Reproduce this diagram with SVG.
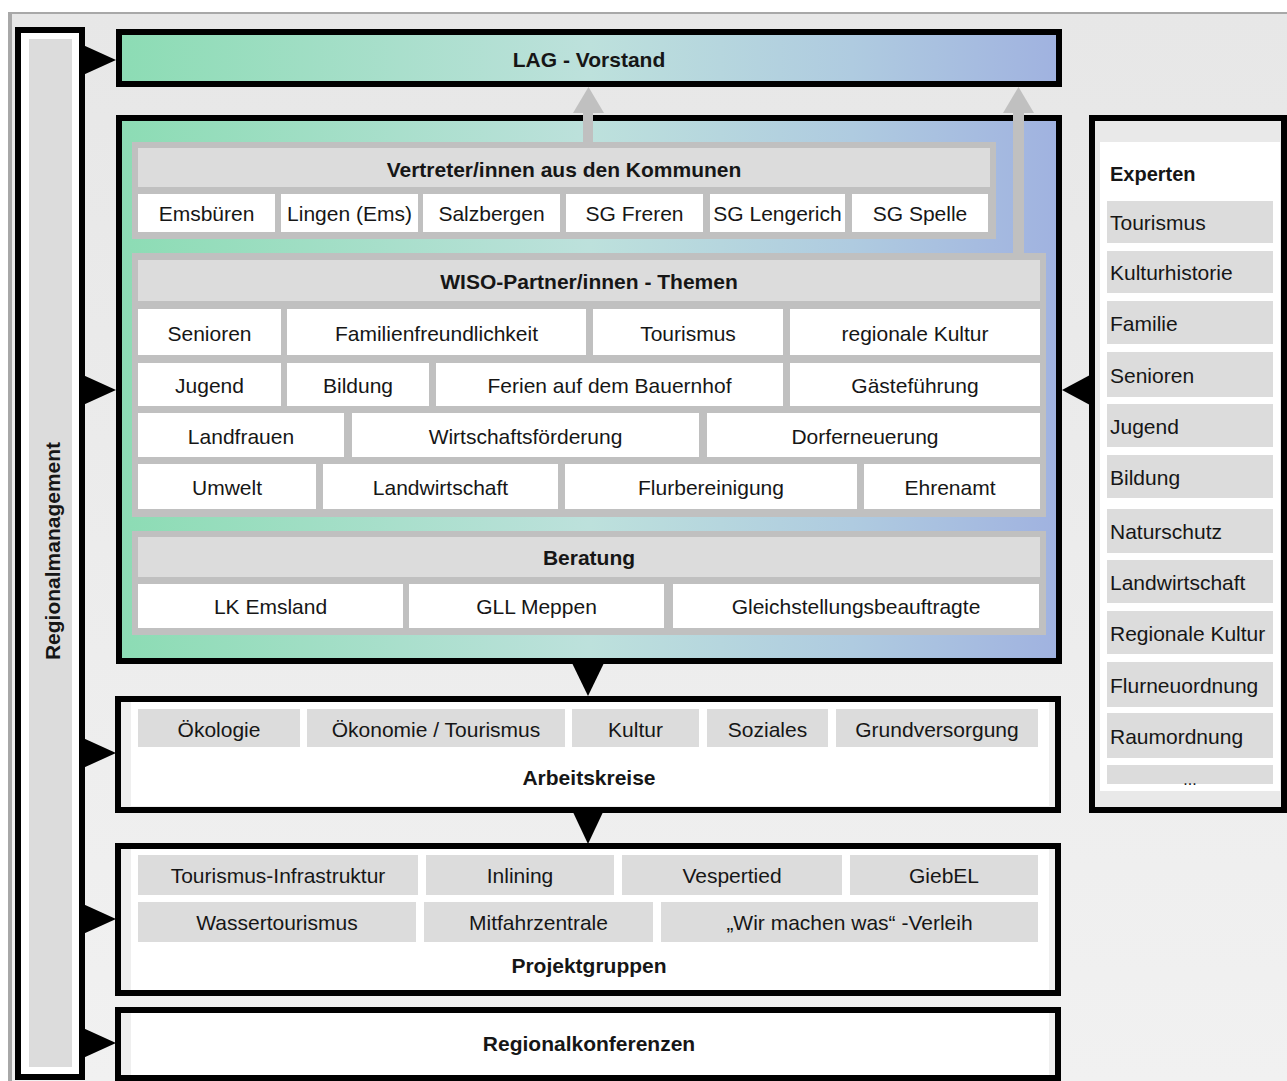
<svg xmlns="http://www.w3.org/2000/svg" width="1287" height="1081" viewBox="0 0 1287 1081">
  <style>
    text { font-family: "Liberation Sans", Arial, sans-serif; font-size: 21px; fill: #161616; }
    .b { font-weight: bold; }
    .c { text-anchor: middle; }
    .box { stroke: #000; stroke-width: 6; }
    .frame { fill: #c0c0c0; }
    .hdr { fill: #dcdcdc; }
    .cell { fill: #ffffff; }
    .gcell { fill: #dcdcdc; }
    .inner { fill: #ffffff; }
    .blk { fill: #000; }
    .garr { fill: #c0c0c0; }
  </style>
  <defs>
    <linearGradient id="grad" gradientUnits="userSpaceOnUse" x1="119" y1="0" x2="1059" y2="0">
      <stop offset="0" stop-color="#8cdcb4"/>
      <stop offset="0.5" stop-color="#bde1dc"/>
      <stop offset="0.78" stop-color="#afcbe0"/>
      <stop offset="1" stop-color="#a0b2e0"/>
    </linearGradient>
    <linearGradient id="bg" x1="0" y1="0" x2="0" y2="1">
      <stop offset="0" stop-color="#e7e7e7"/>
      <stop offset="1" stop-color="#f1f1f1"/>
    </linearGradient>
  </defs>

  <!-- background -->
  <rect x="0" y="0" width="1287" height="1081" fill="#ffffff"/>
  <rect x="8" y="12" width="1279" height="1069" fill="url(#bg)"/>
  <rect x="8" y="12" width="1279" height="2" fill="#a8a8a8"/>
  <rect x="8" y="12" width="4" height="1069" fill="#a8a8a8"/>

  <!-- Regionalmanagement -->
  <g id="regionalmanagement">
    <rect class="box" x="18" y="30" width="64" height="1047" fill="#ffffff"/>
    <rect x="29" y="39" width="43" height="1028" fill="#dcdcdc"/>
    <text class="b c" transform="translate(60,551) rotate(-90)">Regionalmanagement</text>
  </g>

  <!-- LAG Vorstand -->
  <g id="lag-vorstand">
    <rect class="box" x="119" y="32" width="940" height="52" fill="url(#grad)"/>
    <text class="b c" x="589" y="67">LAG - Vorstand</text>
  </g>

  <!-- Main box -->
  <g id="main">
    <rect class="box" x="119" y="118" width="940" height="543" fill="url(#grad)"/>
  </g>

  <!-- Vertreter -->
  <g id="vertreter">
    <rect class="frame" x="132" y="142" width="864" height="97"/>
    <rect class="hdr" x="138" y="148" width="852" height="39"/>
    <text class="b c" x="564" y="177">Vertreter/innen aus den Kommunen</text>
    <rect class="cell" x="138" y="194" width="137" height="38"/>
    <rect class="cell" x="281" y="194" width="137" height="38"/>
    <rect class="cell" x="423" y="194" width="137" height="38"/>
    <rect class="cell" x="566" y="194" width="137" height="38"/>
    <rect class="cell" x="710" y="194" width="135" height="38"/>
    <rect class="cell" x="852" y="194" width="136" height="38"/>
    <text class="c" x="206.5" y="221">Emsbüren</text>
    <text class="c" x="349.5" y="221">Lingen (Ems)</text>
    <text class="c" x="491.5" y="221">Salzbergen</text>
    <text class="c" x="634.5" y="221">SG Freren</text>
    <text class="c" x="777.5" y="221">SG Lengerich</text>
    <text class="c" x="920" y="221">SG Spelle</text>
  </g>

  <!-- WISO -->
  <g id="wiso">
    <rect class="frame" x="132" y="253" width="914" height="264"/>
    <rect class="hdr" x="138" y="260" width="902" height="41"/>
    <text class="b c" x="589" y="289">WISO-Partner/innen - Themen</text>
    <rect class="cell" x="138" y="309" width="143" height="46"/>
    <rect class="cell" x="287" y="309" width="299" height="46"/>
    <rect class="cell" x="593" y="309" width="190" height="46"/>
    <rect class="cell" x="790" y="309" width="250" height="46"/>
    <text class="c" x="209.5" y="341">Senioren</text>
    <text class="c" x="436.5" y="341">Familienfreundlichkeit</text>
    <text class="c" x="688" y="341">Tourismus</text>
    <text class="c" x="915" y="341">regionale Kultur</text>

    <rect class="cell" x="138" y="363" width="143" height="43"/>
    <rect class="cell" x="287" y="363" width="142" height="43"/>
    <rect class="cell" x="436" y="363" width="347" height="43"/>
    <rect class="cell" x="790" y="363" width="250" height="43"/>
    <text class="c" x="209.5" y="393">Jugend</text>
    <text class="c" x="358" y="393">Bildung</text>
    <text class="c" x="609.5" y="393">Ferien auf dem Bauernhof</text>
    <text class="c" x="915" y="393">Gästeführung</text>

    <rect class="cell" x="138" y="413" width="206" height="44"/>
    <rect class="cell" x="352" y="413" width="347" height="44"/>
    <rect class="cell" x="707" y="413" width="333" height="44"/>
    <text class="c" x="241" y="444">Landfrauen</text>
    <text class="c" x="525.5" y="444">Wirtschaftsförderung</text>
    <text class="c" x="865" y="444">Dorferneuerung</text>

    <rect class="cell" x="138" y="464" width="178" height="45"/>
    <rect class="cell" x="323" y="464" width="235" height="45"/>
    <rect class="cell" x="565" y="464" width="292" height="45"/>
    <rect class="cell" x="864" y="464" width="176" height="45"/>
    <text class="c" x="227" y="495">Umwelt</text>
    <text class="c" x="440.5" y="495">Landwirtschaft</text>
    <text class="c" x="711" y="495">Flurbereinigung</text>
    <text class="c" x="950" y="495">Ehrenamt</text>
  </g>

  <!-- Beratung -->
  <g id="beratung">
    <rect class="frame" x="132" y="531" width="914" height="104"/>
    <rect class="hdr" x="138" y="537" width="902" height="40"/>
    <text class="b c" x="589" y="565">Beratung</text>
    <rect class="cell" x="138" y="584" width="265" height="44"/>
    <rect class="cell" x="409" y="584" width="255" height="44"/>
    <rect class="cell" x="673" y="584" width="366" height="44"/>
    <text class="c" x="270.5" y="614">LK Emsland</text>
    <text class="c" x="536.5" y="614">GLL Meppen</text>
    <text class="c" x="856" y="614">Gleichstellungsbeauftragte</text>
  </g>

  <!-- Arbeitskreise -->
  <g id="arbeitskreise">
    <rect class="box" x="118" y="699" width="940" height="111" fill="#efefef"/>
    <rect class="inner" x="131" y="702" width="918" height="104"/>
    <rect class="gcell" x="138" y="709" width="162" height="38"/>
    <rect class="gcell" x="307" y="709" width="258" height="38"/>
    <rect class="gcell" x="572" y="709" width="127" height="38"/>
    <rect class="gcell" x="707" y="709" width="121" height="38"/>
    <rect class="gcell" x="836" y="709" width="202" height="38"/>
    <text class="c" x="219" y="737">Ökologie</text>
    <text class="c" x="436" y="737">Ökonomie / Tourismus</text>
    <text class="c" x="635.5" y="737">Kultur</text>
    <text class="c" x="767.5" y="737">Soziales</text>
    <text class="c" x="937" y="737">Grundversorgung</text>
    <text class="b c" x="589" y="785">Arbeitskreise</text>
  </g>

  <!-- Projektgruppen -->
  <g id="projektgruppen">
    <rect class="box" x="118" y="846" width="940" height="147" fill="#efefef"/>
    <rect class="inner" x="131" y="849" width="918" height="141"/>
    <rect class="gcell" x="138" y="855" width="280" height="40"/>
    <rect class="gcell" x="426" y="855" width="188" height="40"/>
    <rect class="gcell" x="622" y="855" width="220" height="40"/>
    <rect class="gcell" x="850" y="855" width="188" height="40"/>
    <text class="c" x="278" y="883">Tourismus-Infrastruktur</text>
    <text class="c" x="520" y="883">Inlining</text>
    <text class="c" x="732" y="883">Vespertied</text>
    <text class="c" x="944" y="883">GiebEL</text>
    <rect class="gcell" x="138" y="902" width="278" height="40"/>
    <rect class="gcell" x="424" y="902" width="229" height="40"/>
    <rect class="gcell" x="661" y="902" width="377" height="40"/>
    <text class="c" x="277" y="930">Wassertourismus</text>
    <text class="c" x="538.5" y="930">Mitfahrzentrale</text>
    <text class="c" x="849.5" y="930">„Wir machen was“ -Verleih</text>
    <text class="b c" x="589" y="973">Projektgruppen</text>
  </g>

  <!-- Regionalkonferenzen -->
  <g id="regionalkonferenzen">
    <rect class="box" x="118" y="1010" width="940" height="68" fill="#efefef"/>
    <rect class="inner" x="131" y="1013" width="918" height="62"/>
    <text class="b c" x="589" y="1051">Regionalkonferenzen</text>
  </g>

  <!-- Experten -->
  <g id="experten">
    <rect class="box" x="1092" y="118" width="192" height="692" fill="#e9e9e9"/>
    <rect class="inner" x="1100" y="142" width="180" height="649"/>
    <text class="b" x="1110" y="181" style="font-size:20px">Experten</text>
    <rect class="gcell" x="1107" y="201" width="166" height="42"/>
    <rect class="gcell" x="1107" y="251" width="166" height="42"/>
    <rect class="gcell" x="1107" y="301" width="166" height="43"/>
    <rect class="gcell" x="1107" y="352" width="166" height="45"/>
    <rect class="gcell" x="1107" y="404" width="166" height="43"/>
    <rect class="gcell" x="1107" y="455" width="166" height="43"/>
    <rect class="gcell" x="1107" y="509" width="166" height="44"/>
    <rect class="gcell" x="1107" y="560" width="166" height="43"/>
    <rect class="gcell" x="1107" y="611" width="166" height="43"/>
    <rect class="gcell" x="1107" y="662" width="166" height="45"/>
    <rect class="gcell" x="1107" y="713" width="166" height="45"/>
    <rect class="gcell" x="1107" y="765" width="166" height="19"/>
    <text x="1110" y="230">Tourismus</text>
    <text x="1110" y="280">Kulturhistorie</text>
    <text x="1110" y="331">Familie</text>
    <text x="1110" y="383">Senioren</text>
    <text x="1110" y="434">Jugend</text>
    <text x="1110" y="485">Bildung</text>
    <text x="1110" y="539">Naturschutz</text>
    <text x="1110" y="590">Landwirtschaft</text>
    <text x="1110" y="641">Regionale Kultur</text>
    <text x="1110" y="693">Flurneuordnung</text>
    <text x="1110" y="744">Raumordnung</text>
    <text class="c" x="1190" y="785" style="font-size:16px">...</text>
  </g>

  <!-- Connectors -->
  <g id="connectors">
    <polygon class="blk" points="83,45 83,75 116,60"/>
    <polygon class="blk" points="83,375 83,405 116,390"/>
    <polygon class="blk" points="83,738 83,768 116,753"/>
    <polygon class="blk" points="83,904 83,934 116,919"/>
    <polygon class="blk" points="83,1028 83,1058 116,1043"/>
    <polygon class="blk" points="1090,375 1090,405 1062,390"/>
    <polygon class="blk" points="572,663 604,663 588,696"/>
    <polygon class="blk" points="572,810 604,810 588,844"/>
    <rect class="garr" x="583" y="112" width="10" height="31"/>
    <polygon class="garr" points="573,113 604,113 588.5,87"/>
    <rect class="garr" x="1013" y="112" width="11" height="142"/>
    <polygon class="garr" points="1003,113 1034,113 1018.5,87"/>
  </g>
</svg>
